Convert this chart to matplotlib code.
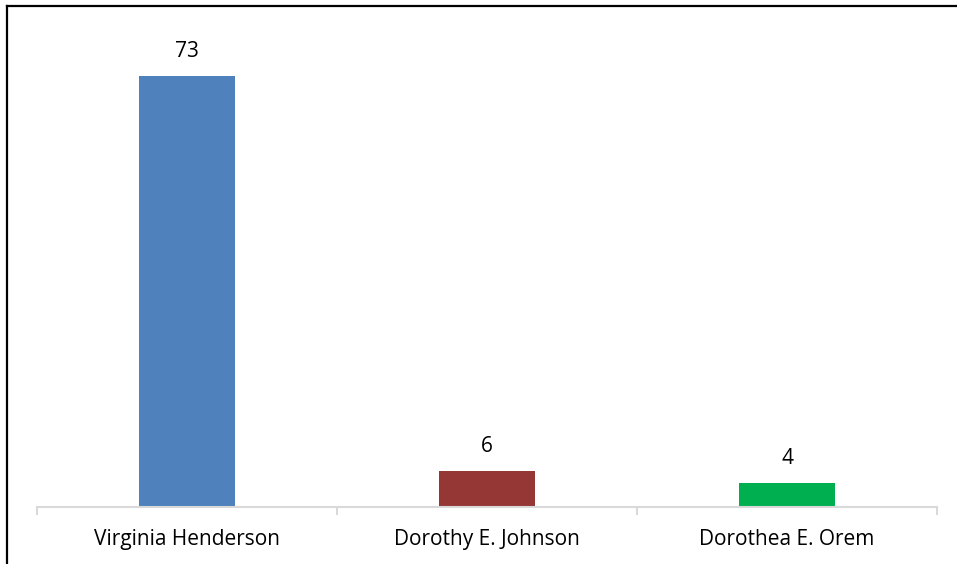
import matplotlib
matplotlib.use("Agg")
import matplotlib.pyplot as plt
from matplotlib.lines import Line2D

categories = ["Virginia Henderson", "Dorothy E. Johnson", "Dorothea E. Orem"]
values = [73, 6, 4]
colors = ["#4F81BD", "#953735", "#00B050"]

plt.rcParams['font.family'] = ['Open Sans', 'DejaVu Sans']

W, H = 957, 564
fig = plt.figure(figsize=(W / 100, H / 100), dpi=100)
ax = fig.add_axes([37 / W, 57.5 / H, 900 / W, (80 * 5.897) / H])

x = list(range(len(categories)))
bars = ax.bar(x, values, width=0.317, color=colors, zorder=2)
ax.set_xlim(-0.5, len(categories) - 0.5)
ax.set_ylim(0, 80)

for xi, v in zip(x, values):
    ax.annotate(str(v), (xi, v), xytext=(0, 10), textcoords="offset points",
                ha="center", va="bottom", fontsize=15, color="#000000")

for s in ["top", "right", "left"]:
    ax.spines[s].set_visible(False)
ax.spines["bottom"].set_color("#D9D9D9")
ax.spines["bottom"].set_linewidth(1.5)
ax.set_yticks([])
ax.set_xticks(x)
ax.set_xticklabels(categories, fontsize=15, color="#000000")
ax.tick_params(axis="x", which="major", length=0, pad=16)
ax.set_xticks([i - 0.5 for i in range(len(categories) + 1)], minor=True)
ax.tick_params(axis="x", which="minor", length=6, width=1.5, color="#D9D9D9")

fig.add_artist(Line2D([6.5 / W, 6.5 / W], [0, 1 - 5.5 / H], transform=fig.transFigure,
                      color="black", linewidth=1.6))
fig.add_artist(Line2D([6.5 / W, 1], [1 - 5.5 / H, 1 - 5.5 / H], transform=fig.transFigure,
                      color="black", linewidth=1.6))

fig.savefig("out.png", dpi=100)
